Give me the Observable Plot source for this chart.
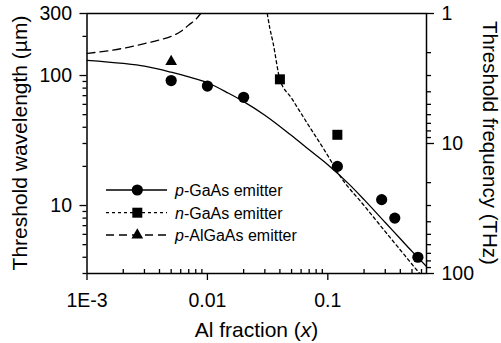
<!DOCTYPE html>
<html><head><meta charset="utf-8">
<script src="https://cdn.jsdelivr.net/npm/d3@7"></script>
<script src="https://cdn.jsdelivr.net/npm/@observablehq/plot@0.6"></script>
<style>html,body{margin:0;padding:0;background:#fff}svg{display:block}</style>
</head><body><div id="chart"></div>
<script>
// measured points
const pGaAsX = [0.005, 0.01, 0.02, 0.12, 0.28, 0.36, 0.56];
const pGaAsY = [91.5, 83, 68, 20, 11.1, 8.0, 4.0];
const nGaAsX = [0.04, 0.12];
const nGaAsY = [93.5, 35];
const pAlGaAsX = [0.005];
const pAlGaAsY = [128];
// model curves
const pCurveX = [0.001, 0.002, 0.003, 0.005, 0.007, 0.01, 0.015, 0.02, 0.03, 0.05, 0.07, 0.1, 0.15, 0.2, 0.3, 0.4, 0.5, 0.66];
const pCurveY = [131, 124, 118, 106, 97.5, 88, 73, 63, 49.5, 34.5, 26.8, 20.6, 14.6, 11.1, 7.4, 5.55, 4.44, 3.4];
const nCurveX = [0.0314, 0.033, 0.035, 0.04, 0.05, 0.07, 0.1, 0.123, 0.2, 0.3, 0.4, 0.55, 0.58];
const nCurveY = [300, 231, 181, 93.5, 67, 40.7, 24.2, 17.5, 10, 6.3, 4.55, 3.18, 3.0];
const aCurveX = [0.001, 0.0015, 0.002, 0.003, 0.004, 0.005, 0.006, 0.007, 0.008, 0.0088];
const aCurveY = [148, 155, 162, 176, 188, 200, 218, 245, 270, 300];
// ticks
const xTickValues = [0.001, 0.01, 0.1];
const xTickLabels = ["1E-3", "0.01", "0.1"];
const xMinor = [0.002,0.003,0.004,0.005,0.006,0.007,0.008,0.009,0.02,0.03,0.04,0.05,0.06,0.07,0.08,0.09,0.2,0.3,0.4,0.5,0.6];
const yTickValues = [10, 100, 300];
const yMinor = [3,4,5,6,7,8,9,20,30,40,50,60,70,80,90,200];
const freqMajor = [1, 10, 100];
const freqMinor = [2,3,4,5,6,7,8,9,20,30,40,50,60,70,80,90];
const cThz = 300; // µm·THz
// texts
const xLabel = ["Al fraction (", "x", ")"];
const yLabel = "Threshold wavelength (µm)";
const y2Label = "Threshold frequency (THz)";
const legendItems = [["p", "-GaAs emitter"], ["n", "-GaAs emitter"], ["p", "-AlGaAs emitter"]];

const zip = (xs, ys) => xs.map((x, i) => ({x, y: ys[i]}));
const font = "'Liberation Sans', Arial, Helvetica, sans-serif";

const chart = Plot.plot({
  width: 501, height: 343,
  marginLeft: 86.5, marginRight: 75, marginTop: 13, marginBottom: 70,
  style: {fontFamily: font, fontSize: "19.5px", background: "white", color: "black", overflow: "visible"},
  x: {type: "log", domain: [0.001, 0.66]},
  y: {type: "log", domain: [3, 300]},
  marks: [
    Plot.line(zip(pCurveX, pCurveY), {x: "x", y: "y", stroke: "black", strokeWidth: 1.3, curve: "monotone-x", clip: true}),
    Plot.line(zip(nCurveX, nCurveY), {x: "x", y: "y", stroke: "black", strokeWidth: 1.3, strokeDasharray: "3,3", curve: "monotone-x", clip: true}),
    Plot.line(zip(aCurveX, aCurveY), {x: "x", y: "y", stroke: "black", strokeWidth: 1.3, strokeDasharray: "8,5", curve: "monotone-x", clip: true}),
    Plot.dot(zip(pGaAsX, pGaAsY), {x: "x", y: "y", symbol: "circle", r: 5.6, fill: "black", stroke: "none"}),
    Plot.dot(zip(nGaAsX, nGaAsY), {x: "x", y: "y", symbol: "square", r: 5.64, fill: "black", stroke: "none"}),
    Plot.dot(zip(pAlGaAsX, pAlGaAsY), {x: "x", y: "y", symbol: "triangle", r: 4.35, fill: "black", stroke: "none"}),
    Plot.axisX({ticks: xTickValues, tickFormat: d => xTickLabels[xTickValues.indexOf(d)], tickSize: 7, tickPadding: 13, label: null, strokeWidth: 1.3}),
    Plot.axisX({ticks: xMinor, tickFormat: () => "", tickSize: -4, label: null, strokeWidth: 1.3}),
    Plot.axisY({ticks: yTickValues, tickFormat: d => String(d), tickSize: 7, tickPadding: 8, label: null, strokeWidth: 1.3}),
    Plot.axisY({ticks: yMinor, tickFormat: () => "", tickSize: 4, label: null, strokeWidth: 1.3}),
    Plot.axisY({anchor: "right", ticks: freqMajor.map(f => cThz / f), tickFormat: d => String(Math.round(cThz / d)), tickSize: 7, tickPadding: 8, label: null, strokeWidth: 1.3}),
    Plot.axisY({anchor: "right", ticks: freqMinor.map(f => cThz / f), tickFormat: () => "", tickSize: 4, label: null, strokeWidth: 1.3}),
    Plot.frame({stroke: "black", strokeWidth: 1.5})
  ]
});
document.getElementById("chart").appendChild(chart);

const svg = d3.select(chart);
// axis titles
const xl = svg.append("text").attr("x", 256.5).attr("y", 336.5).attr("text-anchor", "middle")
  .attr("font-size", 21).attr("font-family", font).attr("fill", "black");
xl.append("tspan").text(xLabel[0]);
xl.append("tspan").attr("font-style", "italic").text(xLabel[1]);
xl.append("tspan").text(xLabel[2]);
svg.append("text").attr("transform", "translate(27,143) rotate(-90)").attr("text-anchor", "middle")
  .attr("font-size", 21).attr("font-family", font).attr("fill", "black").text(yLabel);
svg.append("text").attr("transform", "translate(482.5,143) rotate(90)").attr("text-anchor", "middle")
  .attr("font-size", 20.5).attr("font-family", font).attr("fill", "black").text(y2Label);

// legend
const rowsY = [190, 212.7, 235];
const dashes = [null, "3,3", "8,5"];
const syms = [d3.symbolCircle, d3.symbolSquare, d3.symbolTriangle];
const sizes = [Math.PI * 5.6 * 5.6, Math.PI * 5.64 * 5.64, Math.PI * 4.35 * 4.35];
const lg = svg.append("g").attr("text-anchor", "start");
legendItems.forEach((item, i) => {
  const y = rowsY[i];
  lg.append("line").attr("x1", 106).attr("x2", 167).attr("y1", y).attr("y2", y)
    .attr("stroke", "black").attr("stroke-width", 1.3).attr("stroke-dasharray", dashes[i]);
  lg.append("path").attr("transform", `translate(137.3,${y})`).attr("d", d3.symbol(syms[i], sizes[i])()).attr("fill", "black");
  const t = lg.append("text").attr("x", 175).attr("y", y + 6).attr("text-anchor", "start")
    .attr("font-size", 16).attr("font-family", font).attr("fill", "black");
  t.append("tspan").attr("font-style", "italic").text(item[0]);
  t.append("tspan").text(item[1]);
});
</script>
</body></html>
